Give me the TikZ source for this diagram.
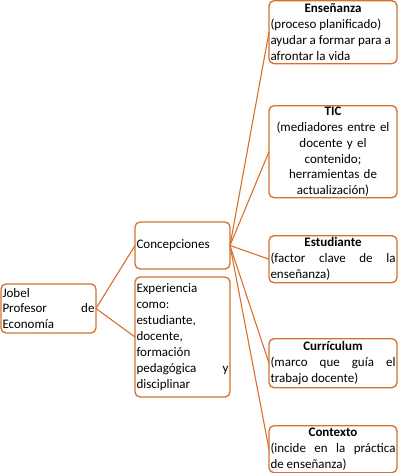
\documentclass[tikz,border=0pt]{standalone}
\usepackage{fontspec}
\setmainfont{Carlito}
\usetikzlibrary{positioning}
\definecolor{naranja}{RGB}{215,112,45}
\newcommand{\titulo}[1]{{\centering\textbf{#1}\par}}
\hyphenpenalty=10000
\exhyphenpenalty=10000

\tikzset{
	caja/.style={draw=naranja, line width=1.3pt, rounded corners=5pt, inner xsep=1.5pt, inner ysep=0pt,
		outer sep=0pt, font=\fontsize{13pt}{15.9pt}\selectfont, anchor=north west},
	izq/.style={caja, text width=92pt, align=justify},
	der/.style={caja, text width=125pt, align=justify},
	rama/.style={draw=naranja, line width=1.1pt}
}

\begin{document}
\begin{tikzpicture}[x=1pt,y=1pt]
	\useasboundingbox (0,0) rectangle (400,-473);
	% raiz y conceptos
	\node[izq, minimum height=49pt] (jobel) at (1,-284) {Jobel\\ Profesor de Economía};
	\node[izq, minimum height=47pt] (conc) at (135,-222) {Concepciones};
	\node[izq, below=8pt of conc.south west, anchor=north west, minimum height=120pt] (exp) {Experiencia como: estudiante, docente, formación pedagógica y disciplinar};
	% columna derecha
	\node[der, minimum height=63pt] (ens) at (269,-0.7) {\titulo{Enseñanza}(proceso planificado)\\ \mbox{ayudar a formar para a}\\ afrontar la vida};
	\node[der, below=42pt of ens.south west, anchor=north west, align=center, minimum height=92pt] (tic) {\textbf{TIC}\\ (mediadores entre el\\ docente y el\\ contenido;\\ herramientas de\\ actualización)};
	\node[der, below=38pt of tic.south west, anchor=north west, minimum height=47pt] (est) {\titulo{Estudiante}(factor clave de la\linebreak enseñanza)};
	\node[der, below=56pt of est.south west, anchor=north west, minimum height=49pt] (curr) {\titulo{Currículum}(marco que guía el\linebreak trabajo docente)};
	\node[der, below=38pt of curr.south west, anchor=north west, minimum height=47pt] (ctx) {\titulo{Contexto}(incide en la práctica\linebreak de enseñanza)};
	% ramas
	\draw[rama] (jobel.east) -- (conc.west);
	\draw[rama] (jobel.east) -- (exp.west);
	\foreach \n in {ens,tic,est,curr,ctx}
		\draw[rama] (conc.east) -- (\n.west);
\end{tikzpicture}
\end{document}
